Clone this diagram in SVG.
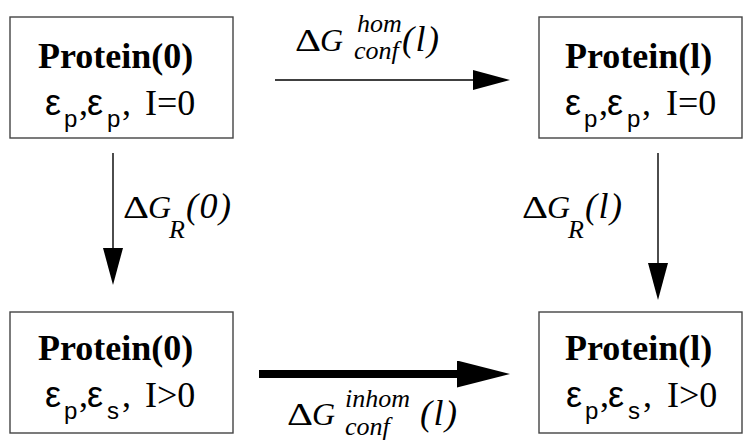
<svg xmlns="http://www.w3.org/2000/svg" width="752" height="447" viewBox="0 0 752 447">
<style>
.box{fill:#fff;stroke:#444;stroke-width:1.4}
.t{font-family:"Liberation Serif","Times New Roman",serif;fill:#000}
.b{font-weight:bold;font-size:36px}
.eps{font-family:"Liberation Sans",Arial,sans-serif;font-size:36px}
.sub{font-family:"Liberation Sans",Arial,sans-serif;font-size:24px}
.rm{font-size:36px}
.d{font-size:32px}
.i{font-style:italic;font-size:32px}
.p{font-style:italic;font-size:36px;letter-spacing:1.5px}
.si{font-style:italic;font-size:26px}
.ln{stroke:#000;stroke-width:1.4;fill:none}
.thick{stroke:#000;stroke-width:8;fill:none}
</style>
<defs>
<marker id="ah" markerUnits="userSpaceOnUse" markerWidth="38" markerHeight="20" refX="0" refY="10" orient="auto" viewBox="0 0 38 20">
<path d="M0,0 L37,10 L0,20 Z" fill="#000"/>
</marker>
<marker id="ahb" markerUnits="userSpaceOnUse" markerWidth="54" markerHeight="28" refX="0" refY="13.5" orient="auto" viewBox="0 0 54 28">
<path d="M0,0 L53,13.5 L0,27 Z" fill="#000"/>
</marker>
</defs>

<g id="node-protein0-top">
<rect class="box" x="10" y="17" width="223" height="121"/>
<text class="t b" x="38" y="68">Protein(0)</text>
<text class="t eps" x="45" y="115">ε</text>
<text class="t sub" x="64" y="127">p</text>
<text class="t rm" x="79" y="115">,</text>
<text class="t eps" x="87" y="115">ε</text>
<text class="t sub" x="107" y="127">p</text>
<text class="t rm" x="122" y="115">,</text>
<text class="t rm" x="145" y="115">I=0</text>
</g>

<g id="node-proteinl-top">
<rect class="box" x="539" y="17" width="203" height="121"/>
<text class="t b" x="565" y="68">Protein(l)</text>
<text class="t eps" x="565" y="115">ε</text>
<text class="t sub" x="584" y="127">p</text>
<text class="t rm" x="599" y="115">,</text>
<text class="t eps" x="607" y="115">ε</text>
<text class="t sub" x="627" y="127">p</text>
<text class="t rm" x="642" y="115">,</text>
<text class="t rm" x="666" y="115">I=0</text>
</g>

<g id="node-protein0-bottom">
<rect class="box" x="10" y="312" width="223" height="121"/>
<text class="t b" x="38" y="360">Protein(0)</text>
<text class="t eps" x="45" y="407">ε</text>
<text class="t sub" x="64" y="419">p</text>
<text class="t rm" x="79" y="407">,</text>
<text class="t eps" x="87" y="407">ε</text>
<text class="t sub" x="107" y="419">s</text>
<text class="t rm" x="122" y="407">,</text>
<text class="t rm" x="145" y="407">I&gt;0</text>
</g>

<g id="node-proteinl-bottom">
<rect class="box" x="539" y="312" width="203" height="121"/>
<text class="t b" x="565" y="360">Protein(l)</text>
<text class="t eps" x="566" y="407">ε</text>
<text class="t sub" x="585" y="419">p</text>
<text class="t rm" x="600" y="407">,</text>
<text class="t eps" x="608" y="407">ε</text>
<text class="t sub" x="628" y="419">s</text>
<text class="t rm" x="643" y="407">,</text>
<text class="t rm" x="667" y="407">I&gt;0</text>
</g>

<g id="connectors">
<line class="ln" x1="275" y1="80" x2="473" y2="80" marker-end="url(#ah)"/>
<line class="ln" x1="113" y1="153" x2="113" y2="248" marker-end="url(#ah)"/>
<line class="ln" x1="658" y1="153" x2="658" y2="263" marker-end="url(#ah)"/>
<line class="thick" x1="259" y1="374" x2="457" y2="374" marker-end="url(#ahb)"/>

<g id="label-hom">
<text class="t d" x="295" y="51" textLength="26" lengthAdjust="spacingAndGlyphs">Δ</text>
<text class="t i" x="320" y="51">G</text>
<text class="t si" x="357" y="32">hom</text>
<text class="t si" x="354" y="59">conf</text>
<text class="t p" x="402" y="51">(l)</text>
</g>
<g id="label-inhom">
<text class="t d" x="287" y="425" textLength="26" lengthAdjust="spacingAndGlyphs">Δ</text>
<text class="t i" x="312" y="425">G</text>
<text class="t si" x="345" y="407">inhom</text>
<text class="t si" x="345" y="435">conf</text>
<text class="t p" x="420" y="425">(l)</text>
</g>
<g id="label-r0">
<text class="t d" x="123" y="218" textLength="26" lengthAdjust="spacingAndGlyphs">Δ</text>
<text class="t i" x="148" y="218">G</text>
<text class="t si" x="169" y="238">R</text>
<text class="t p" x="186" y="218">(0)</text>
</g>
<g id="label-rl">
<text class="t d" x="522" y="218" textLength="26" lengthAdjust="spacingAndGlyphs">Δ</text>
<text class="t i" x="547" y="218">G</text>
<text class="t si" x="568" y="238">R</text>
<text class="t p" x="585" y="218">(l)</text>
</g>
</g>
</svg>
